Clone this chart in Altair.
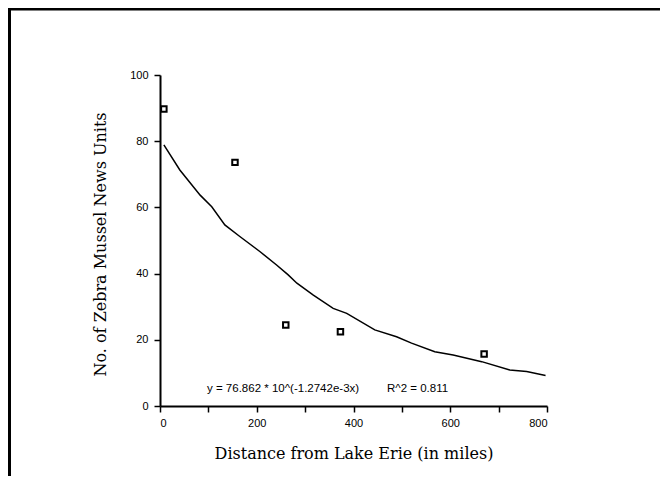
import altair as alt
import pandas as pd

# Observed data points
distance = [8, 155, 260, 373, 670]
units = [89.7, 73.6, 24.5, 22.4, 15.7]

# Fitted curve
curve_x = [8, 41, 83, 107, 134, 165, 207, 241, 265, 283, 317, 358, 386, 444, 489, 520, 568, 606, 665, 723, 758, 797]
curve_y = [78.9, 71.3, 63.7, 60.2, 54.7, 51.2, 46.6, 42.6, 39.6, 37.1, 33.5, 29.5, 28.0, 23.0, 20.9, 19.0, 16.4, 15.4, 13.4, 10.9, 10.4, 9.2]

equation_text = ["y = 76.862 * 10^(-1.2742e-3x)"]
r2_text = ["R^2 = 0.811"]

x_ticks = [0, 100, 200, 300, 400, 500, 600, 700, 800]
y_ticks = [0, 10, 20, 30, 40, 50, 60, 70, 80, 90, 100]

pts = pd.DataFrame({"d": distance, "u": units})
cur = pd.DataFrame({"d": curve_x, "u": curve_y})

W, H = 387, 331

xs = alt.Scale(domain=[0, 800], nice=False, zero=False)
ys = alt.Scale(domain=[0, 100], nice=False, zero=False)

common = dict(
    grid=False,
    titleFont="DejaVu Serif",
    titleFontSize=16,
    titleFontWeight="normal",
    titleColor="black",
    titleBaseline="alphabetic",
    labelFont="Liberation Sans",
    labelFontSize=11,
    labelColor="black",
    tickSize=6,
    tickColor="black",
    tickWidth=1.5,
    domainColor="black",
    domainWidth=2,
)

x_axis = alt.Axis(
    values=x_ticks,
    labelExpr="datum.value % 200 == 0 ? datum.label : ''",
    title="Distance from Lake Erie (in miles)",
    titleX=193.5,
    titleY=52,
    labelPadding=5,
    **common,
)
y_axis = alt.Axis(
    values=y_ticks,
    labelExpr="datum.value % 20 == 0 ? datum.label : ''",
    title="No. of Zebra Mussel News Units",
    titleX=-55,
    titleY=169,
    labelPadding=6,
    **common,
)

line = alt.Chart(cur).mark_line(color="black", strokeWidth=1.5).encode(
    x=alt.X("d:Q", scale=xs, axis=x_axis),
    y=alt.Y("u:Q", scale=ys, axis=y_axis),
)

squares = alt.Chart(pts).mark_square(
    filled=False, color="black", size=30, strokeWidth=2, opacity=1
).encode(
    x=alt.X("d:Q", scale=xs),
    y=alt.Y("u:Q", scale=ys),
)

eq = alt.Chart(pd.DataFrame({"t": equation_text})).mark_text(
    align="left", baseline="middle", font="Liberation Sans", fontSize=11.5, color="black"
).encode(x=alt.value(47), y=alt.value(314), text="t:N")

r2 = alt.Chart(pd.DataFrame({"t": r2_text})).mark_text(
    align="left", baseline="middle", font="Liberation Sans", fontSize=11.5, color="black"
).encode(x=alt.value(227), y=alt.value(314), text="t:N")

one = pd.DataFrame({"a": [0]})
top_border = alt.Chart(one).mark_rule(color="black", strokeWidth=3).encode(
    x=alt.value(-152), x2=alt.value(520), y=alt.value(-66)
)
left_border = alt.Chart(one).mark_rule(color="black", strokeWidth=3).encode(
    x=alt.value(-150.5), y=alt.value(-67), y2=alt.value(410)
)

chart = alt.layer(line, squares, eq, r2, top_border, left_border).properties(
    width=W,
    height=H,
    autosize=alt.AutoSizeParams(type="none"),
    padding={"left": 152, "top": 67, "right": 113, "bottom": 70},
    background="white",
).configure_view(stroke=None)

chart.save("out.html", embed_options={"renderer": "svg", "actions": False})
